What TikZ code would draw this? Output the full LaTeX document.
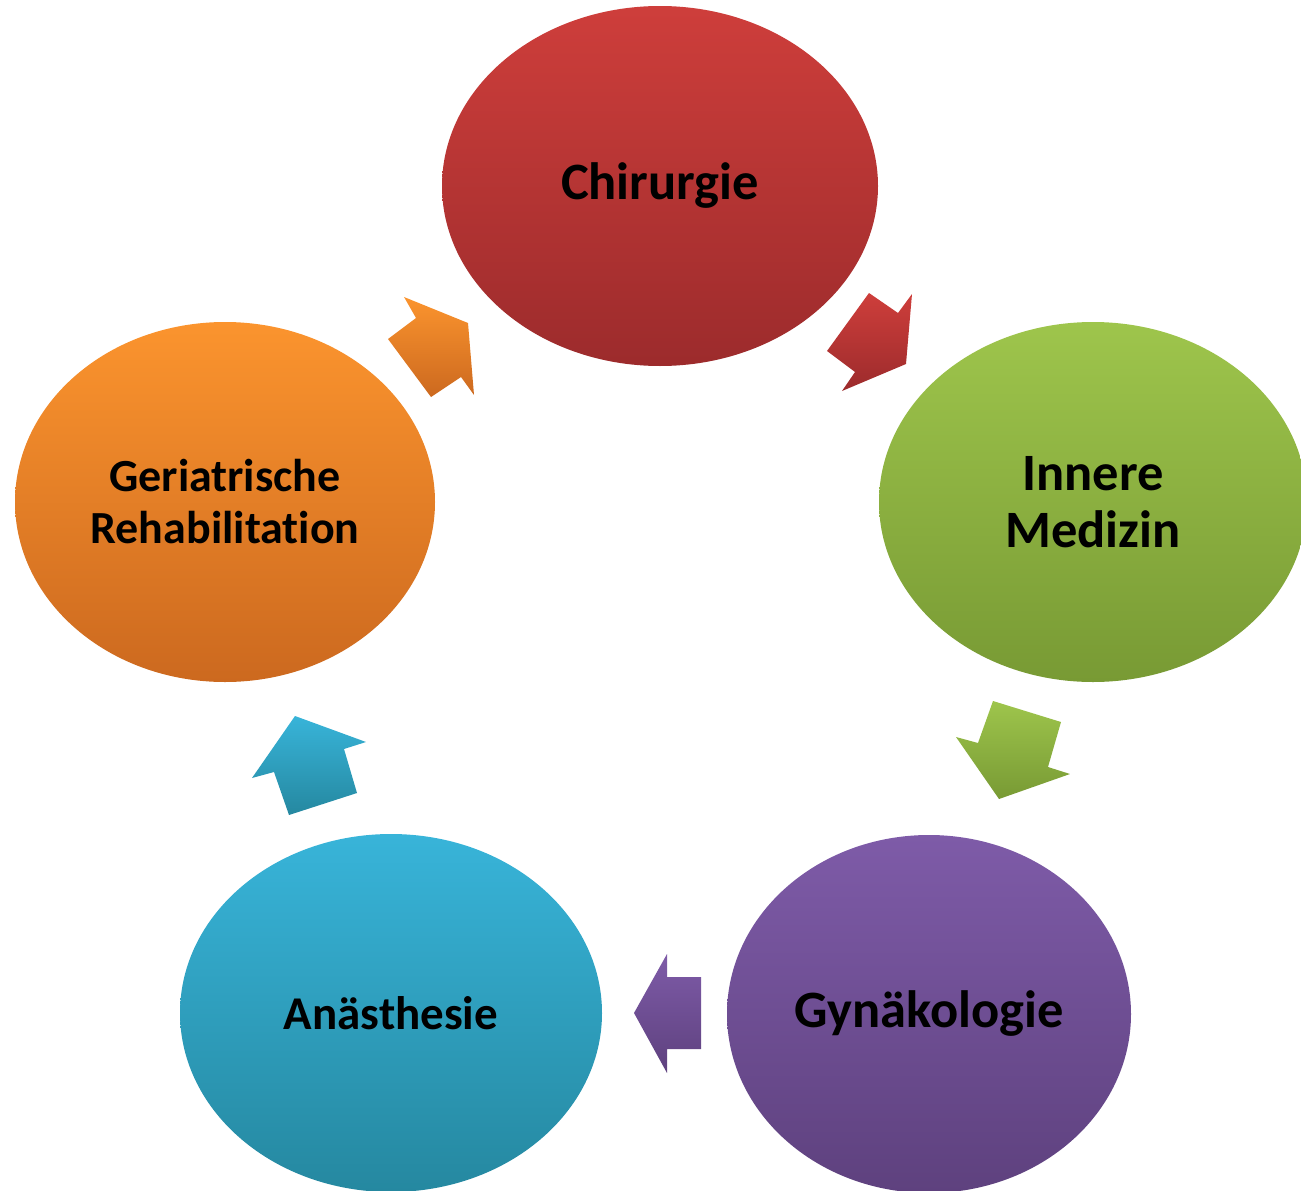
\documentclass[tikz,border=0pt]{standalone}
\usepackage{fontspec}
\setmainfont{Carlito}[Ligatures=NoCommon]
\usetikzlibrary{shapes.geometric}
\definecolor{redT}{HTML}{CE3E3B}
\definecolor{redB}{HTML}{9C2B2C}
\definecolor{grnT}{HTML}{9EC54C}
\definecolor{grnB}{HTML}{789A34}
\definecolor{purT}{HTML}{7E5BA8}
\definecolor{purB}{HTML}{5E417E}
\definecolor{bluT}{HTML}{38B4D9}
\definecolor{bluB}{HTML}{2588A0}
\definecolor{orgT}{HTML}{FB942E}
\definecolor{orgB}{HTML}{CC691F}
\tikzset{
  blob/.style={ellipse, inner sep=0pt, align=center, text=black, font=\bfseries},
}
\begin{document}
\begin{tikzpicture}[x=1pt,y=-1pt]
\useasboundingbox (0,0) rectangle (1301,1191);
\clip (0,0) rectangle (1301,1191);
% ellipses
\node[blob, top color=redT, bottom color=redB, minimum width=436pt, minimum height=360pt,
      font=\fontsize{52.5}{57}\selectfont\bfseries] (chir) at (660,186) {Chirurgie};
\node[blob, top color=grnT, bottom color=grnB, minimum width=428pt, minimum height=360pt,
      font=\fontsize{52.5}{57}\selectfont\bfseries] (inn) at (1093,502) {Innere\\Medizin};
\node[blob, top color=purT, bottom color=purB, minimum width=404pt, minimum height=358pt,
      font=\fontsize{52.5}{57}\selectfont\bfseries] (gyn) at (929,1014) {Gynäkologie};
\node[blob, top color=bluT, bottom color=bluB, minimum width=422pt, minimum height=358pt,
      font=\fontsize{47}{52}\selectfont\bfseries] (ana) at (391,1013) {Anästhesie};
\node[blob, top color=orgT, bottom color=orgB, minimum width=420pt, minimum height=360pt,
      font=\fontsize{46}{52}\selectfont\bfseries] (ger) at (225,502) {Geriatrische\\Rehabilitation};
% block arrows
\shade[top color=redT, bottom color=redB]
  (869,293) -- (898,313) -- (912,294) -- (906,364) -- (842,391) -- (855,372) -- (827,351) -- cycle;
\shade[top color=grnT, bottom color=grnB]
  (993,701) -- (1061,722) -- (1048,767) -- (1070,774) -- (999,799) -- (956,737) -- (978,743) -- cycle;
\shade[top color=purT, bottom color=purB]
  (667,954) -- (667,977) -- (701,977) -- (701,1049) -- (667,1049) -- (667,1073) -- (634,1013) -- cycle;
\shade[top color=bluT, bottom color=bluB]
  (295,716) -- (366,742) -- (344,749) -- (357,793) -- (289,815) -- (274,772) -- (252,778) -- cycle;
\shade[top color=orgT, bottom color=orgB]
  (404,297) -- (468,323) -- (474,395) -- (461,377) -- (431,397) -- (388,339) -- (416,318) -- cycle;
\end{tikzpicture}
\end{document}
